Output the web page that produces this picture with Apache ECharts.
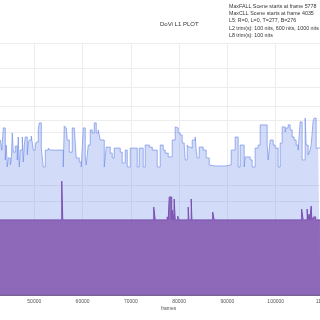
<!DOCTYPE html>
<html>
<head>
<meta charset="utf-8">
<script src="https://cdn.jsdelivr.net/npm/echarts@6/dist/echarts.min.js"></script>
<style>html,body{margin:0;padding:0;background:#fff;}#c{width:320px;height:320px;}</style>
</head>
<body>
<div id="c"></div>
<script>
// MaxCLL (blue) per scene: start frame and PQ-level (% of axis)
const blueFrames = [42960,43270,43580,43995,44200,44410,44615,45030,45240,45445,45650,46065,46480,46685,46895,47100,47515,47720,47930,48135,48550,48755,48965,49380,49790,50205,50410,50825,51035,51450,51860,52275,52900,53310,56000,56210,56620,56830,57245,57865,58280,58690,59315,59730,60140,60555,60765,61175,61590,62005,62420,62835,63250,63660,64490,64900,65730,66145,66560,67800,68215,68835,69250,69870,71320,71735,71940,72560,72975,73800,74425,75045,75460,76080,76700,77115,77735,78565,79185,79390,79805,80220,80635,81050,81255,81670,81875,82290,82705,83325,83530,83740,84155,84980,85600,86225,86635,87465,88500,89535,90780,91605,92225,92640,93470,93675,94710,95125,95745,96365,96780,97195,98230,98440,98850,99470,99885,100505,100920,101335,101955,102160,102575,102990,103405,103820,104235,104650,105060,105475,106095,106305,106720,107130,107340,107750,107960,108375,108790,109200];
const blueValues = [61.5,57.5,66.3,53.6,59.5,50.8,54.4,51.6,53.6,64.3,56.7,59.1,53.6,62.7,50.8,57.5,62.7,52.8,59.5,62.7,55.6,60.3,61.5,63.1,57.5,59.5,60.7,65.5,68.3,58.3,50.8,57.5,58.3,57.5,50.8,67.1,66.3,61.5,56.7,66.3,65.9,54.4,52.8,50.8,66.3,54.8,51.6,59.5,65.5,64.3,68.3,64.3,65.5,61.5,50.8,58.7,56.3,54.4,58.3,56.7,52.4,57.5,50.8,58.3,50.8,58.3,58.3,50.8,59.5,58.7,57.5,57.5,50.8,59.5,57.5,56.3,54.8,61.5,66.7,66.3,64.3,63.5,60.3,59.5,53.6,59.5,58.7,58.3,61.5,62.7,57.5,54.4,58.7,57.5,54.4,51.6,51.2,51.2,51.2,51.6,57.5,62.7,50.8,59.5,50.8,54.8,53.6,50.8,58.3,59.5,67.5,67.5,59.5,53.6,61.5,59.5,58.3,50.8,60.3,66.7,64.7,66.3,67.5,65.5,62.7,61.5,59.5,57.5,68.7,53.6,70.2,59.5,55.6,57.5,59.5,69.0,70.2,58.3,58.3];
// MaxFALL (purple) per scene
const purpleFrames = [40000,55690,55900,74735,75050,77530,77740,77945,78460,78565,78875,78980,79185,79705,79910,81875,82020,82500,82645,86950,87260,105370,105685,106510,106655,106925,107070,107340,107485,107860,108275,110000];
const purpleValues = [29.8,45.2,29.8,34.9,29.8,31.0,29.8,38.9,29.8,33.7,29.8,38.1,29.8,31.3,29.8,34.9,29.8,38.1,29.8,32.9,29.8,34.1,29.8,34.1,29.8,32.1,29.8,35.3,29.8,31.0,29.8,29.8];
// horizontal reference levels of the (PQ) y axis
const gridLevels = [100,90.1,82.5,75.0,69.4,64.7,43.7,37.3,24.6,20.2,15.5,11.1,6.7,2.4];
const infoLines = ["MaxFALL Scene starts at frame 5778","MaxCLL Scene starts at frame 4035","L5: R=0, L=0, T=277, B=276","L2 trim(s): 100 nits, 600 nits, 1000 nits","L8 trim(s): 100 nits"];
const chartTitle = "DoVi L1 PLOT";
const xName = "frames";

const chart = echarts.init(document.getElementById('c'), null, {renderer:'canvas'});
const blueData = [[40000, blueValues[0]]].concat(blueFrames.map((f,i)=>[f, blueValues[i]]));
blueData.push([110000, blueValues[blueValues.length-1]]);
const purpleData = purpleFrames.map((f,i)=>[f, purpleValues[i]]);
chart.setOption({
  animation:false,
  backgroundColor:'#fff',
  textStyle:{fontFamily:'Liberation Sans, Arial, sans-serif'},
  grid:{left:-14, right:-4, top:43, bottom:25, containLabel:false, outerBoundsMode:'none'},
  xAxis:{type:'value', min:40000, max:110000, interval:10000,
    axisLine:{show:true, onZero:false, lineStyle:{color:'#4a3566', width:1.5}},
    axisTick:{show:false},
    axisLabel:{fontSize:5, color:'#555', margin:4, formatter:(v)=>String(v)},
    splitLine:{show:true, lineStyle:{color:'#ededed', width:1}}},
  yAxis:{type:'value', min:0, max:100, axisLine:{show:false}, axisTick:{show:false}, axisLabel:{show:false}, splitLine:{show:false}},
  series:[
    {type:'line', data:[], silent:true, z:1,
      markLine:{silent:true, z:1, symbol:'none', label:{show:false}, lineStyle:{color:'#ededed', type:'solid', width:1},
        data: gridLevels.map(v=>({yAxis:v}))}},
    {type:'line', name:'MaxCLL', data:blueData, step:'end', showSymbol:false, z:3,
      lineStyle:{color:'#7590e8', width:0.7},
      areaStyle:{color:'#6b87e8', opacity:0.3}},
    {type:'line', name:'MaxFALL', data:purpleData, step:'end', showSymbol:false, z:4,
      lineStyle:{color:'#7a50b2', width:1},
      areaStyle:{color:'#885fb3', opacity:0.92}}
  ],
  graphic:[
    {type:'text', left:160, top:21, style:{text:chartTitle, fontSize:6, fill:'#333', fontFamily:'Liberation Sans, Arial, sans-serif'}},
    {type:'text', left:229, top:3, style:{text:infoLines.join('\n'), fontSize:5.3, lineHeight:7.2, fill:'#333', fontFamily:'Liberation Sans, Arial, sans-serif'}},
    {type:'text', left:161, top:306, style:{text:xName, fontSize:5, fill:'#555', fontFamily:'Liberation Sans, Arial, sans-serif'}}
  ]
});
</script>
</body>
</html>
